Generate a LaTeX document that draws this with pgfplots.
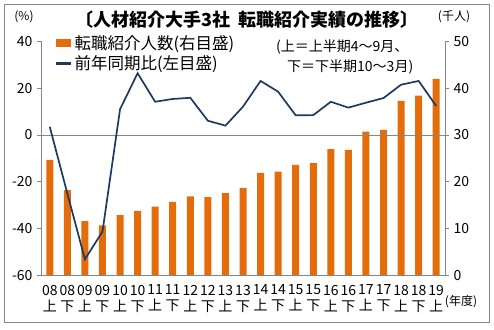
\documentclass[border=0pt]{standalone}
\usepackage{pgfplots}
\pgfplotsset{compat=1.18}
\usepackage{fontspec}
\setmainfont{Noto Sans CJK JP}
\definecolor{barorange}{HTML}{E46C0A}
\definecolor{lcolor}{HTML}{1F3A5F}
\definecolor{axgray}{HTML}{868686}
\begin{document}
\begin{tikzpicture}
\path[use as bounding box] (0,0) rectangle (494bp,330bp);
\draw[axgray, line width=1bp] (4.5bp,7bp) rectangle (489.5bp,325bp);
% bars on right axis
\begin{axis}[
  at={(41bp,54.6bp)}, anchor=south west, scale only axis,
  width=404bp, height=234bp,
  xmin=-0.5, xmax=22.5, ymin=0, ymax=50,
  axis x line=none, axis y line*=right,
  ytick={0,10,...,50},
  tick align=outside, major tick length=4bp,
  axis line style={axgray, line width=0.8bp},
  ytick style={axgray, line width=0.8bp},
  yticklabel style={font=\fontsize{14bp}{16bp}\selectfont, /pgf/number format/assume math mode=true, xshift=1bp},
  ybar, bar width=7bp,
]
\addplot[fill=barorange, draw=none] coordinates {
(0,24.7) (1,18.2) (2,11.6) (3,10.7) (4,12.9) (5,13.8) (6,14.7) (7,15.7)
(8,16.9) (9,16.7) (10,17.6) (11,18.7) (12,21.9) (13,22.2) (14,23.6) (15,24.0)
(16,27.0) (17,26.8) (18,30.7) (19,31.1) (20,37.3) (21,38.4) (22,42.0)};
\end{axis}
% line on left axis
\begin{axis}[
  at={(41bp,54.6bp)}, anchor=south west, scale only axis,
  width=404bp, height=234bp,
  xmin=-0.5, xmax=22.5, ymin=-60, ymax=40,
  axis x line*=bottom, axis y line*=left,
  ytick={-60,-40,...,40},
  extra y ticks={0}, extra y tick labels={},
  extra y tick style={grid=major, major grid style={axgray, line width=0.9bp}},
  xtick={0,...,22},
  xticklabels={08\\上,08\\下,09\\上,09\\下,10\\上,10\\下,11\\上,11\\下,12\\上,12\\下,13\\上,13\\下,14\\上,14\\下,15\\上,15\\下,16\\上,16\\下,17\\上,17\\下,18\\上,18\\下,19\\上},
  xtick style={draw=none},
  minor xtick={-0.5,0.5,...,22.5},
  minor x tick style={axgray, line width=0.8bp},
  tick align=outside, major tick length=4bp, minor tick length=4bp,
  axis line style={axgray, line width=0.8bp},
  ytick style={axgray, line width=0.8bp},
  yticklabel style={font=\fontsize{14bp}{16bp}\selectfont, /pgf/number format/assume math mode=true, xshift=-1bp},
  xticklabel style={font=\fontsize{14bp}{16bp}\selectfont, align=center, yshift=-2bp},
  legend style={draw=none, fill=none, at={(0.035,1.035)}, anchor=north west,
    font=\fontsize{16.5bp}{18bp}\selectfont, row sep=1bp, inner sep=0pt,
    legend cell align=left},
]
\addlegendimage{legend image code/.code={\fill[barorange] (0bp,-3.5bp) rectangle (14bp,3.5bp);}}
\addlegendentry{転職紹介人数(右目盛)}
\addplot[lcolor, line width=1.7bp, mark=none, legend image code/.code={\draw[lcolor, line width=2.2bp] (0bp,0bp) -- (15bp,0bp);}] coordinates {
(0,3.5) (1,-25) (2,-53.1) (3,-41.3) (4,11.0) (5,26.4) (6,14.2) (7,15.4)
(8,15.9) (9,6.1) (10,4.0) (11,12.1) (12,23.1) (13,18.5) (14,8.4) (15,8.5)
(16,14.2) (17,11.7) (18,13.8) (19,15.8) (20,21.5) (21,23.1) (22,12.4)};
\addlegendentry{前年同期比(左目盛)}
\end{axis}
\node[font=\bfseries\fontsize{18bp}{20bp}\selectfont] at (247bp,310bp) {〔人材紹介大手3社\ \ 転職紹介実績の推移〕};
\node[font=\fontsize{12bp}{14bp}\selectfont] at (24bp,313bp) {(\%)};
\node[font=\fontsize{12bp}{14bp}\selectfont] at (454bp,313bp) {(千人)};
\node[font=\fontsize{14bp}{15bp}\selectfont, anchor=west, inner sep=0pt] at (276bp,283bp) {(上＝上半期4～9月、};
\node[font=\fontsize{14bp}{15bp}\selectfont, anchor=west, inner sep=0pt] at (287bp,263bp) {下＝下半期10～3月)};
\node[font=\fontsize{12bp}{14bp}\selectfont] at (461bp,28bp) {(年度)};
\end{tikzpicture}
\end{document}
